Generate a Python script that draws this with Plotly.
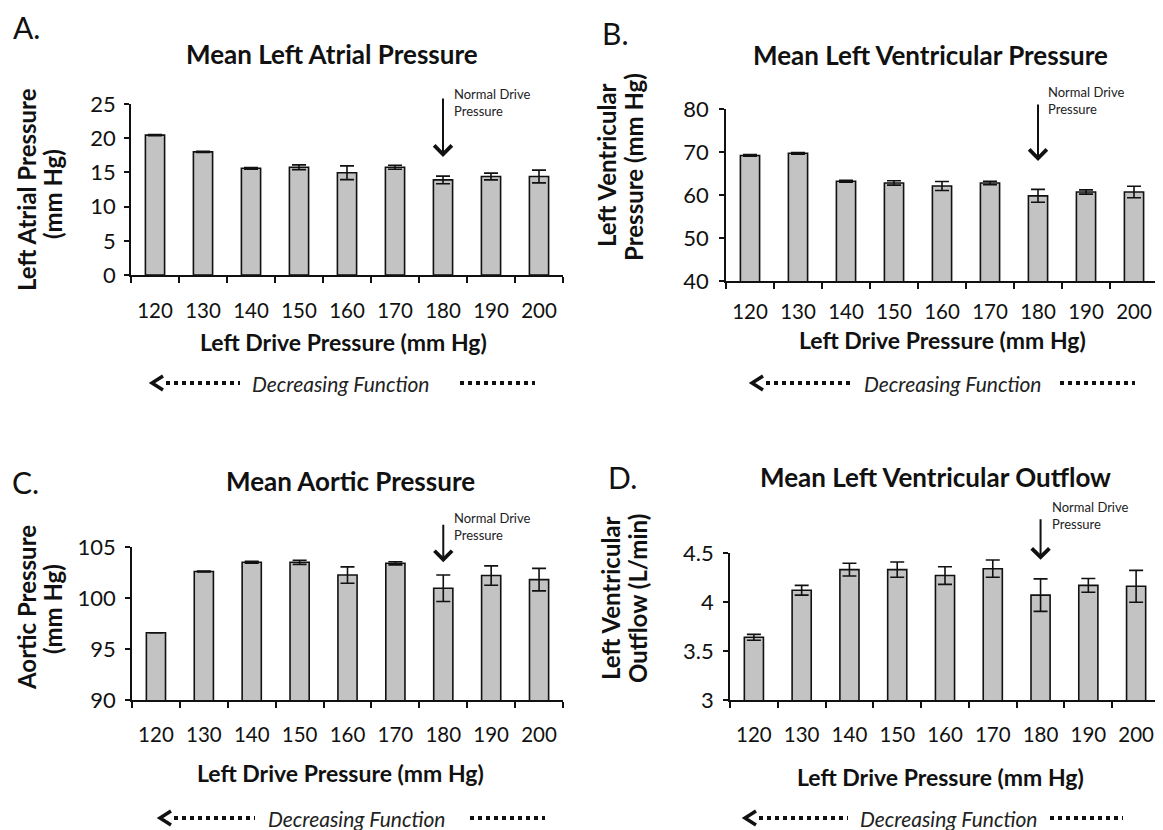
import plotly.graph_objects as go

# ---------------- data ----------------
drive = ["120", "130", "140", "150", "160", "170", "180", "190", "200"]

lap_mean = [20.45, 18.0, 15.6, 15.75, 14.95, 15.75, 13.9, 14.4, 14.4]
lap_err = [0.1, 0.1, 0.12, 0.35, 1.0, 0.3, 0.55, 0.5, 0.93]

lvp_mean = [69.2, 69.7, 63.2, 62.8, 62.1, 62.8, 59.8, 60.7, 60.7]
lvp_err = [0.2, 0.2, 0.2, 0.5, 1.05, 0.4, 1.5, 0.5, 1.35]

aop_mean = [96.6, 102.6, 103.5, 103.5, 102.25, 103.4, 100.95, 102.2, 101.8]
aop_err = [0.0, 0.05, 0.1, 0.2, 0.8, 0.15, 1.3, 0.95, 1.1]

lvo_mean = [3.64, 4.12, 4.33, 4.33, 4.27, 4.34, 4.07, 4.17, 4.16]
lvo_err = [0.03, 0.05, 0.065, 0.078, 0.09, 0.088, 0.166, 0.07, 0.163]

panel_letters = ["A.", "B.", "C.", "D."]
titles = ["Mean Left Atrial Pressure", "Mean Left Ventricular Pressure",
          "Mean Aortic Pressure", "Mean Left Ventricular Outflow"]
ytitles = [["Left Atrial Pressure", "(mm Hg)"], ["Left Ventricular", "Pressure (mm Hg)"],
           ["Aortic Pressure", "(mm Hg)"], ["Left Ventricular", "Outflow (L/min)"]]
xtitle = "Left Drive Pressure (mm Hg)"
yranges = [[0, 25], [40, 80], [90, 105], [3, 4.5]]
ydticks = [5, 10, 5, 0.5]
normal_cat = "180"
arrow_tip = [17.25, 67.9, 103.5, 4.43]

# ---------------- layout helpers ----------------
OFF = 8                      # page body margin
W, H = 1163 - OFF, 830 - OFF  # figure size
FONT = "Lato"


def px(x):
    return (x - OFF) / W


def py(y):
    return 1 - (y - OFF) / H


panels = [
    dict(mean=lap_mean, err=lap_err, dx=(131, 563), dy=(104, 275),
         letter=(26, 27), title=(332, 54), ytl=((26, 190), (52, 194)), xt=(343, 342),
         ystand=4, xstand=17, arrow_ay=-60, nd=(452, 93),
         dec=dict(y=383, c0=152, d0=166, d1=240, t=(250), e0=460, e1=535)),
    dict(mean=lvp_mean, err=lvp_err, dx=(726, 1158), dy=(109, 281),
         letter=(615, 33), title=(930, 55), ytl=((606, 165), (633, 167)), xt=(942, 340),
         ystand=6, xstand=12, arrow_ay=-58, nd=(1046, 91),
         dec=dict(y=383, c0=752, d0=766, d1=850, t=(862), e0=1060, e1=1135)),
    dict(mean=aop_mean, err=aop_err, dx=(132, 563), dy=(547, 700),
         letter=(25, 482), title=(350, 481), ytl=((26, 608), (52, 609)), xt=(340, 773),
         ystand=5, xstand=16, arrow_ay=-39, nd=(452, 517),
         dec=dict(y=818, c0=160, d0=174, d1=255, t=(266), e0=470, e1=545)),
    dict(mean=lvo_mean, err=lvo_err, dx=(730, 1160), dy=(553, 700),
         letter=(622, 477), title=(935, 477), ytl=((610, 598), (637, 599)), xt=(940, 777),
         ystand=5, xstand=16, arrow_ay=-42, nd=(1050, 506),
         dec=dict(y=818, c0=745, d0=759, d1=848, t=(858), e0=1050, e1=1123)),
]

fig = go.Figure()
annotations = []
shapes = []
normal_idx = drive.index(normal_cat)

for i, p in enumerate(panels):
    n = "" if i == 0 else str(i + 1)
    xa, ya = "x" + n, "y" + n
    fig.add_trace(go.Bar(
        x=drive, y=p["mean"], xaxis=xa, yaxis=ya,
        marker=dict(color="#c3c3c3", line=dict(color="#111111", width=1.6)),
        error_y=dict(type="data", array=p["err"], visible=True,
                     color="#111111", thickness=1.6, width=7),
        showlegend=False, hoverinfo="x+y",
    ))
    axis_common = dict(showline=True, linecolor="#111111", linewidth=1.6,
                       showgrid=False, zeroline=False, ticks="outside",
                       tickcolor="#111111", tickwidth=1.6, automargin=False)
    fig.layout["xaxis" + n] = dict(
        axis_common, domain=[px(p["dx"][0]), px(p["dx"][1])], anchor=ya,
        type="category", tickson="boundaries", ticklen=6,
        range=[-0.5, len(drive) - 0.5], tickangle=0,
        ticklabelstandoff=p["xstand"],
        tickfont=dict(family=FONT, size=20.5, color="#111111"),
    )
    fig.layout["yaxis" + n] = dict(
        axis_common, domain=[py(p["dy"][1]), py(p["dy"][0])], anchor=xa,
        range=yranges[i], dtick=ydticks[i], tick0=yranges[i][0], ticklen=5,
        ticklabelstandoff=p["ystand"],
        tickfont=dict(family=FONT, size=22, color="#111111"),
    )

    # panel letter
    annotations.append(dict(xref="paper", yref="paper", x=px(p["letter"][0]), y=py(p["letter"][1]),
                            text=panel_letters[i], showarrow=False, xanchor="center", yanchor="middle",
                            font=dict(family=FONT, size=30, color="#111111")))
    # title
    annotations.append(dict(xref="paper", yref="paper", x=px(p["title"][0]), y=py(p["title"][1]),
                            text="<b>" + titles[i] + "</b>", showarrow=False, xanchor="center",
                            yanchor="middle", font=dict(family=FONT, size=26, color="#111111")))
    # y title (two lines)
    for (lx, ly), txt in zip(p["ytl"], ytitles[i]):
        annotations.append(dict(xref="paper", yref="paper", x=px(lx), y=py(ly), textangle=-90,
                                text="<b>" + txt + "</b>", showarrow=False, xanchor="center",
                                yanchor="middle", font=dict(family=FONT, size=24, color="#111111")))
    # x title
    annotations.append(dict(xref="paper", yref="paper", x=px(p["xt"][0]), y=py(p["xt"][1]),
                            text="<b>" + xtitle + "</b>", showarrow=False, xanchor="center",
                            yanchor="middle", font=dict(family=FONT, size=23, color="#111111")))
    # normal drive arrow
    annotations.append(dict(xref=xa, yref=ya, x=normal_idx, y=arrow_tip[i], ax=0, ay=p["arrow_ay"],
                            text="", showarrow=True, arrowhead=4, arrowsize=1.7, arrowwidth=2,
                            arrowcolor="#111111"))
    annotations.append(dict(xref="paper", yref="paper", x=px(p["nd"][0]), y=py(p["nd"][1] - 9),
                            text="Normal Drive<br>Pressure", showarrow=False, xanchor="left",
                            yanchor="top", align="left",
                            font=dict(family=FONT, size=13, color="#222222")))
    # decreasing function row
    d = p["dec"]
    yy = py(d["y"])
    shapes.append(dict(type="path", xref="paper", yref="paper",
                       path="M {} {} L {} {} L {} {}".format(px(d["c0"] + 11), py(d["y"] - 7), px(d["c0"]), yy,
                                                            px(d["c0"] + 11), py(d["y"] + 7)),
                       line=dict(color="#111111", width=3.5)))
    shapes.append(dict(type="line", xref="paper", yref="paper", x0=px(d["d0"]), x1=px(d["d1"]),
                       y0=yy, y1=yy, line=dict(color="#111111", width=4, dash="4px,4px")))
    shapes.append(dict(type="line", xref="paper", yref="paper", x0=px(d["e0"]), x1=px(d["e1"]),
                       y0=yy, y1=yy, line=dict(color="#111111", width=4, dash="4px,4px")))
    annotations.append(dict(xref="paper", yref="paper", x=px(d["t"]), y=yy,
                            text="<i>Decreasing Function</i>", showarrow=False, xanchor="left",
                            yanchor="middle", font=dict(family=FONT, size=21, color="#222222")))

fig.update_layout(
    width=W, height=H, margin=dict(l=0, r=0, t=0, b=0, pad=0),
    paper_bgcolor="white", plot_bgcolor="white",
    bargap=0.6, annotations=annotations, shapes=shapes,
    font=dict(family=FONT, color="#111111"),
)

fig.write_html("out.html")
